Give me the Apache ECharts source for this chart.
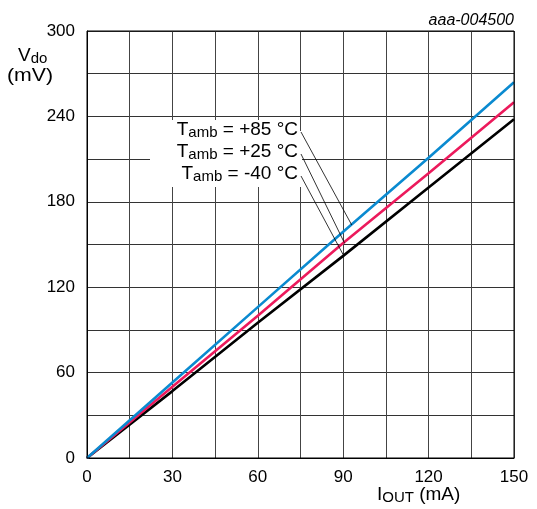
<!DOCTYPE html>
<html>
<head>
<meta charset="utf-8">
<script src="https://cdn.jsdelivr.net/npm/echarts@6/dist/echarts.min.js"></script>
<style>html,body{margin:0;padding:0;background:#fff}#c{width:537px;height:509px}</style>
</head>
<body>
<div id="c"></div>
<script>
var xValues = [0, 30, 60, 90, 120, 150];
var vdo85 = [0, 53, 106, 159, 211, 264];
var vdo25 = [0, 50, 100, 151, 200, 250];
var vdoM40 = [0, 47, 95, 142, 190, 238];
var seriesNames = ['+85 °C', '+25 °C', '-40 °C'];
var leaderX = [93, 90.5, 90];

var FONT = 'Liberation Sans, Arial, sans-serif';
function pairs(ys) { return xValues.map(function (x, i) { return [x, ys[i]]; }); }
var allY = [vdo85, vdo25, vdoM40];
var colors = ['#0a8ad0', '#ec1a5c', '#000000'];

var chart = echarts.init(document.getElementById('c'), null, { renderer: 'canvas' });
var opt = {
  animation: false,
  backgroundColor: '#fff',
  grid: { left: 87, right: 23, top: 31, bottom: 51, containLabel: false },
  xAxis: {
    type: 'value', min: 0, max: 150, interval: 15,
    axisLine: { show: true, lineStyle: { color: '#000', width: 1 } },
    axisTick: { show: false },
    axisLabel: { margin: 11, fontSize: 17, color: '#000', fontFamily: FONT,
      formatter: function (v) { return v % 30 === 0 ? String(v) : ''; } },
    splitLine: { show: true, lineStyle: { color: '#444', width: 1 } }
  },
  yAxis: {
    type: 'value', min: 0, max: 300, interval: 30,
    axisLine: { show: true, lineStyle: { color: '#000', width: 1 } },
    axisTick: { show: false },
    axisLabel: { margin: 12, fontSize: 17, color: '#000', fontFamily: FONT,
      formatter: function (v) { return v % 60 === 0 ? String(v) : ''; } },
    splitLine: { show: true, lineStyle: { color: '#333', width: 1 } }
  },
  series: [2, 1, 0].map(function (k) {
    return { type: 'line', name: seriesNames[k], data: pairs(allY[k]), showSymbol: false,
      lineStyle: { color: colors[k], width: 2.6 }, z: 3 + (2 - k) };
  })
};
chart.setOption(opt);

var tl = chart.convertToPixel({ gridIndex: 0 }, [0, 300]);
var br = chart.convertToPixel({ gridIndex: 0 }, [150, 0]);

var rich = {
  a: { fontSize: 19, fontFamily: FONT, color: '#000', lineHeight: 22 },
  b: { fontSize: 15, fontFamily: FONT, color: '#000', lineHeight: 22, padding: [5, 0, 0, 0] }
};
var graphics = [];
graphics.push({ type: 'rect', shape: { x: tl[0], y: tl[1], width: br[0] - tl[0], height: br[1] - tl[1] },
  style: { fill: 'none', stroke: '#000', lineWidth: 1 }, z: 10 });
graphics.push({ type: 'rect', shape: { x: 150, y: 120, width: 150, height: 67 },
  style: { fill: '#fff' }, z: 2 });
graphics.push({ type: 'rect', shape: { x: 299, y: 131, width: 3, height: 56 },
  style: { fill: '#fff' }, z: 2 });
var labelRows = [130, 152, 174];
seriesNames.forEach(function (n, k) {
  graphics.push({ type: 'text', x: 298, y: labelRows[k], z: 20,
    style: { text: '{a|T}{b|amb}{a| = ' + n + '}', rich: rich, align: 'right', verticalAlign: 'middle' } });
  var p = chart.convertToPixel({ gridIndex: 0 }, [leaderX[k], leaderX[k] * allY[k][5] / 150]);
  graphics.push({ type: 'line', z: 20, shape: { x1: 301, y1: labelRows[k] + 2, x2: p[0], y2: p[1] },
    style: { stroke: '#000', lineWidth: 0.8 } });
});
graphics.push({ type: 'text', x: 514, y: 21, z: 20,
  style: { text: 'aaa-004500', font: 'italic 16px ' + FONT, fill: '#000', align: 'right', verticalAlign: 'middle' } });
graphics.push({ type: 'text', x: 18, y: 56, z: 20,
  style: { text: '{a|V}{b|do}', rich: rich, align: 'left', verticalAlign: 'middle' } });
graphics.push({ type: 'text', x: 30, y: 76, z: 20, scaleX: 1.12,
  style: { text: '(mV)', font: '19px ' + FONT, fill: '#000', align: 'center', verticalAlign: 'middle' } });
graphics.push({ type: 'text', x: 377, y: 495, z: 20,
  style: { text: '{a|I}{b|OUT}{a| (mA)}', rich: rich, align: 'left', verticalAlign: 'middle' } });
chart.setOption({ graphic: graphics });
</script>
</body>
</html>
